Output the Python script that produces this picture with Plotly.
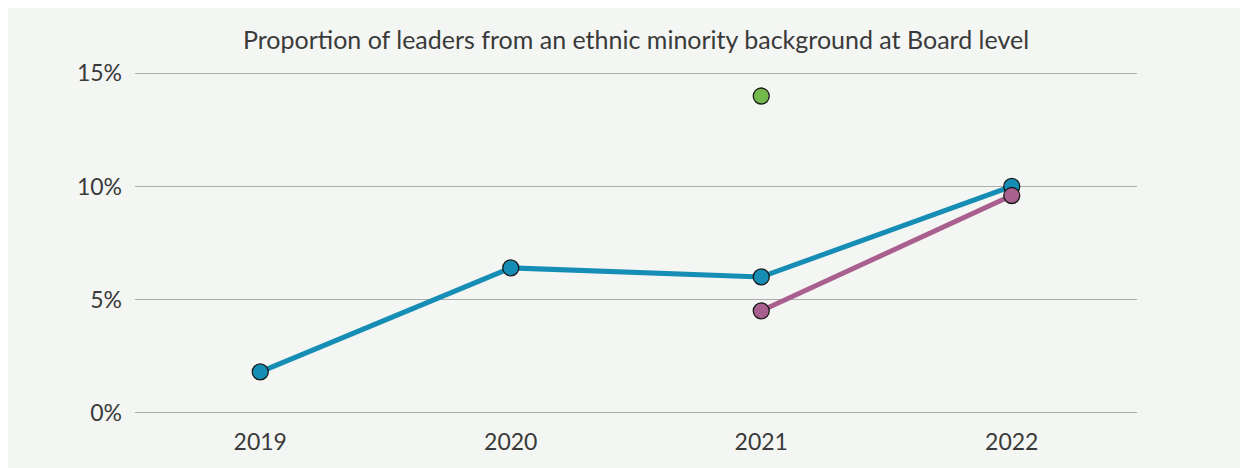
import plotly.graph_objects as go

years = ["2019", "2020", "2021", "2022"]
blue_years = ["2019", "2020", "2021", "2022"]
blue_values = [1.8, 6.4, 6.0, 10.0]
purple_years = ["2021", "2022"]
purple_values = [4.5, 9.6]
green_years = ["2021"]
green_values = [14.0]
y_ticks = [0, 5, 10, 15]
y_tick_labels = ["0%", "5%", "10%", "15%"]

BG = "#f4f6f3"
TXT = "#3a3a3a"
OFF = 8  # default page body margin

fig = go.Figure()
fig.add_trace(go.Scatter(
    x=blue_years, y=blue_values, mode="lines+markers",
    line=dict(color="#168db5", width=5),
    marker=dict(size=16, color="#168db5", line=dict(color="#1a1a1a", width=1.3)),
    showlegend=False, hoverinfo="skip"))
fig.add_trace(go.Scatter(
    x=purple_years, y=purple_values, mode="lines+markers",
    line=dict(color="#a9608f", width=5),
    marker=dict(size=16, color="#a9608f", line=dict(color="#1a1a1a", width=1.3)),
    showlegend=False, hoverinfo="skip"))
fig.add_trace(go.Scatter(
    x=green_years, y=green_values, mode="markers",
    marker=dict(size=16, color="#74b94b", line=dict(color="#1a1a1a", width=1.3)),
    showlegend=False, hoverinfo="skip"))

W, H = 1248 - OFF, 468 - OFF
L, R = 135 - OFF, 1137 - OFF
y15, y0 = 73.5 - OFF, 413 - OFF
pxu = (y0 - y15) / 15.0
ypad = 0.15
T = y15 - ypad * pxu
B = y0 + ypad * pxu

fig.update_layout(
    width=W, height=H,
    margin=dict(l=L, r=W - R, t=T, b=H - B, pad=0),
    paper_bgcolor=BG, plot_bgcolor=BG,
    font=dict(family="Lato, sans-serif", color=TXT, size=22),
    title=dict(text="Proportion of leaders from an ethnic minority background at Board level",
               x=(L + R) / 2 / W, xanchor="center", y=1 - (40 - OFF) / H, yanchor="middle",
               font=dict(size=25, color=TXT)),
)
fig.update_xaxes(type="category", categoryorder="array", categoryarray=years,
                 range=[-0.5, 3.5], showgrid=False, zeroline=False, showline=False,
                 ticks="", ticklabelstandoff=10, tickfont=dict(size=23, color=TXT))
fig.update_yaxes(range=[-ypad, 15 + ypad], tickvals=y_ticks, ticktext=y_tick_labels,
                 showgrid=True, gridcolor="#adadad", gridwidth=1.2,
                 zeroline=False, showline=False, ticks="",
                 ticklabelstandoff=12, tickfont=dict(size=23, color=TXT))

fig.write_html("out.html")
